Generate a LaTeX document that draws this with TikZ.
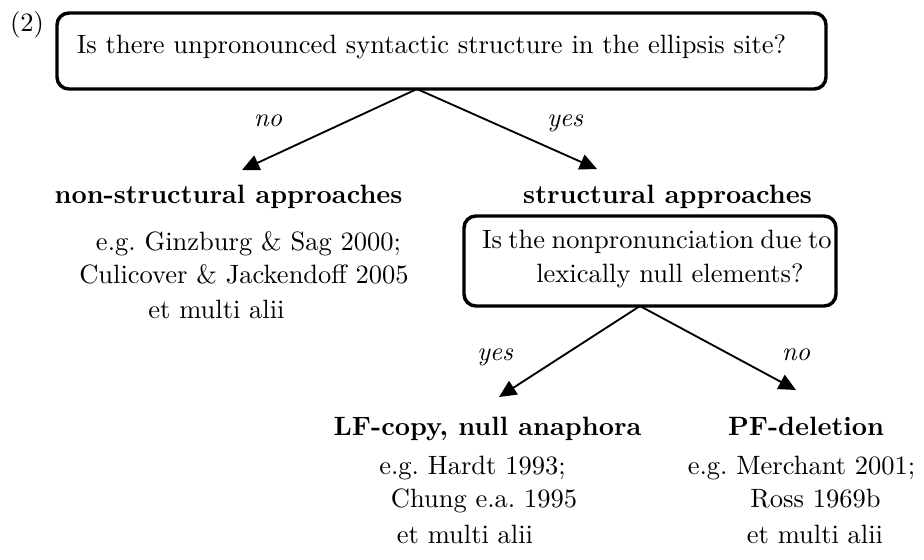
\documentclass[tikz,border=0pt]{standalone}
\usetikzlibrary{arrows.meta,fit}
\begin{document}
\begin{tikzpicture}[x=0.3774pt,y=-0.3774pt,
  every node/.style={inner sep=0pt, outer sep=0pt},
  qbox/.style={draw, line width=1.3pt, rounded corners=4.5pt},
  conn/.style={line width=0.7pt, -{Triangle[length=6.5pt,width=6pt]}},
  ans/.style={font=\itshape, anchor=base},
  head/.style={font=\bfseries, anchor=base},
  ref/.style={anchor=base},
]
\useasboundingbox (0,0) rectangle (924,559);

% example number
\node[anchor=base] (ex) at (27,31) {(2)};

% first question
\node[anchor=base] (q1) at (431.5,53) {Is there unpronounced syntactic structure in the ellipsis site?};
\node[qbox, fit={(57,13) (826,89)}] (b1) {};

\coordinate (o1) at (417,89);
\coordinate (t1) at (242,170);
\coordinate (t2) at (597,169);
\draw[conn] (b1.south -| o1) -- (t1);
\draw[conn] (b1.south -| o1) -- (t2);
\node[ans] (n1) at (268,126) {no};
\node[ans] (y1) at (565,126) {yes};

% left branch
\node[head] (h1) at (228.5,203) {non-structural approaches};
\node[ref] (r1a) at (248.5,250) {e.g.\ Ginzburg \& Sag 2000;};
\node[ref] (r1b) at (244,283) {Culicover \& Jackendoff 2005};
\node[ref] (r1c) at (216.5,318) {et multi alii};

% right branch
\node[head] (h2) at (667.5,203) {structural approaches};
\node[anchor=base west] (q2a) at (482,248) {\spaceskip=2.4pt Is the nonpronunciation due to};
\node[anchor=base] (q2b) at (670,282) {lexically null elements?};
\node[qbox, fit={(464,216) (836,306)}] (b2) {};

\coordinate (o2) at (640,306);
\coordinate (t3) at (499,397);
\coordinate (t4) at (796,390);
\draw[conn] (b2.south -| o2) -- (t3);
\draw[conn] (b2.south -| o2) -- (t4);
\node[ans] (y2) at (495,360) {yes};
\node[ans] (n2) at (796,360) {no};

% bottom left
\node[head] (h3) at (487.5,435) {LF-copy, null anaphora};
\node[ref] (r3a) at (472.5,474) {e.g.\ Hardt 1993;};
\node[ref] (r3b) at (484,507) {Chung e.a.\ 1995};
\node[ref] (r3c) at (465,543) {et multi alii};

% bottom right
\node[head] (h4) at (806,435) {PF-deletion};
\node[ref] (r4a) at (801.5,474) {e.g.\ Merchant 2001;};
\node[ref] (r4b) at (815.5,507) {Ross 1969b};
\node[ref] (r4c) at (815,543) {et multi alii};
\end{tikzpicture}
\end{document}
